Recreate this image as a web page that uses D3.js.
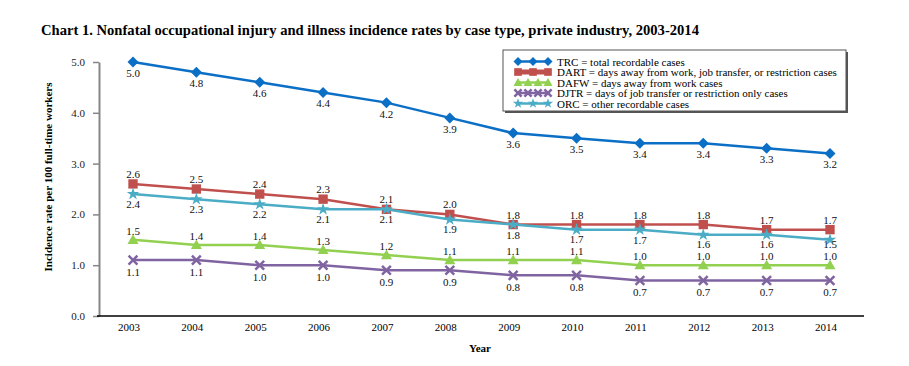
<!DOCTYPE html>
<html>
<head>
<meta charset="utf-8">
<script src="https://cdn.jsdelivr.net/npm/d3@7"></script>
<style>
  body { margin: 0; background: #fff; }
  svg text { font-family: "Liberation Serif", "Times New Roman", serif; }
</style>
</head>
<body>
<svg width="909" height="366" font-family="Liberation Serif, serif"></svg>
<script>
const years = ["2003", "2004", "2005", "2006", "2007", "2008", "2009", "2010", "2011", "2012", "2013", "2014"];
const trc = [5.0, 4.8, 4.6, 4.4, 4.2, 3.9, 3.6, 3.5, 3.4, 3.4, 3.3, 3.2];
const dart = [2.6, 2.5, 2.4, 2.3, 2.1, 2.0, 1.8, 1.8, 1.8, 1.8, 1.7, 1.7];
const dafw = [1.5, 1.4, 1.4, 1.3, 1.2, 1.1, 1.1, 1.1, 1.0, 1.0, 1.0, 1.0];
const djtr = [1.1, 1.1, 1.0, 1.0, 0.9, 0.9, 0.8, 0.8, 0.7, 0.7, 0.7, 0.7];
const orc = [2.4, 2.3, 2.2, 2.1, 2.1, 1.9, 1.8, 1.7, 1.7, 1.6, 1.6, 1.5];
const yTicks = [0, 1, 2, 3, 4, 5];

const series = [
  { name: "TRC = total recordable cases", values: trc, color: "#0b6fc6", shape: "diamond", labelDy: 15 },
  { name: "DART = days away from work, job transfer, or restriction cases", values: dart, color: "#c0504d", shape: "square", labelDy: -6 },
  { name: "DAFW = days away from work cases", values: dafw, color: "#92d050", shape: "triangle", labelDy: -5 },
  { name: "DJTR = days of job transfer or restriction only cases", values: djtr, color: "#8064a2", shape: "x", labelDy: 16 },
  { name: "ORC = other recordable cases", values: orc, color: "#4bacc6", shape: "star", labelDy: 14, below: dafw },
];

const svg = d3.select("svg");

const x = d3.scalePoint().domain(years).range([133, 830]);
const y = d3.scaleLinear().domain([0, 5]).range([316, 62]);

// title
svg.append("text")
  .attr("x", 41)
  .attr("y", 35)
  .attr("font-size", 14.6)
  .attr("font-weight", "bold")
  .text("Chart 1. Nonfatal occupational injury and illness incidence rates by case type, private industry, 2003-2014");

// y axis
const yAxis = svg.append("g")
  .attr("transform", "translate(99,0)")
  .call(d3.axisLeft(y).tickValues(yTicks).tickFormat(d3.format(".1f")).tickSize(6).tickSizeOuter(0));
yAxis.attr("font-family", null);
yAxis.select(".domain").attr("stroke", "#868686").attr("stroke-width", 2);
yAxis.selectAll(".tick line").attr("stroke", "#868686").attr("stroke-width", 1.5);
yAxis.selectAll(".tick text")
  .attr("font-size", 11)
  .attr("fill", "#222")
  .attr("x", -14);

// x axis line
svg.append("line")
  .attr("x1", 97).attr("x2", 864)
  .attr("y1", y(0)).attr("y2", y(0))
  .attr("stroke", "#000").attr("stroke-width", 1.5);

svg.append("g").selectAll("text")
  .data(years)
  .join("text")
  .attr("x", d => x(d) - 4)
  .attr("y", 331)
  .attr("text-anchor", "middle")
  .attr("font-size", 11)
  .text(d => d);

// axis titles
svg.append("text")
  .attr("transform", "translate(52,177) rotate(-90)")
  .attr("text-anchor", "middle")
  .attr("font-size", 11)
  .attr("font-weight", "bold")
  .text("Incidence rate per 100 full-time workers");

svg.append("text")
  .attr("x", 480)
  .attr("y", 352)
  .attr("text-anchor", "middle")
  .attr("font-size", 11)
  .attr("font-weight", "bold")
  .text("Year");

// markers
function drawMarker(g, shape, color, cx, cy, s) {
  if (shape === "diamond") {
    g.append("path")
      .attr("d", `M${cx},${cy - s}L${cx + s},${cy}L${cx},${cy + s}L${cx - s},${cy}Z`)
      .attr("fill", color);
  } else if (shape === "square") {
    g.append("rect")
      .attr("x", cx - s * 0.85).attr("y", cy - s * 0.85)
      .attr("width", s * 1.7).attr("height", s * 1.7)
      .attr("fill", color);
  } else if (shape === "triangle") {
    g.append("path")
      .attr("d", `M${cx},${cy - s}L${cx + s},${cy + s * 0.75}L${cx - s},${cy + s * 0.75}Z`)
      .attr("fill", color);
  } else if (shape === "x") {
    const r = s * 0.8;
    g.append("path")
      .attr("d", `M${cx - r},${cy - r}L${cx + r},${cy + r}M${cx - r},${cy + r}L${cx + r},${cy - r}`)
      .attr("stroke", color).attr("stroke-width", 2.5).attr("fill", "none");
  } else if (shape === "star") {
    g.append("path")
      .attr("d", d3.symbol(d3.symbolStar, s * s * 1.6)())
      .attr("transform", `translate(${cx},${cy})`)
      .attr("fill", color);
  }
}

const line = d3.line()
  .x((d, i) => x(years[i]))
  .y(d => y(d));

series.forEach(s => {
  const g = svg.append("g");
  g.append("path")
    .datum(s.values)
    .attr("d", line)
    .attr("fill", "none")
    .attr("stroke", s.color)
    .attr("stroke-width", 2.5);
  s.values.forEach((v, i) => drawMarker(g, s.shape, s.color, x(years[i]), y(v), 5.5));
});

// data labels on top; a label below a line is pulled up if it would hit the label of the series under it
series.forEach(s => {
  svg.append("g").selectAll("text")
    .data(s.values)
    .join("text")
    .attr("x", (d, i) => x(years[i]))
    .attr("y", (d, i) => {
      let ly = y(d) + s.labelDy;
      if (s.below) ly = Math.min(ly, y(s.below[i]) - 5 - 12);
      return ly;
    })
    .attr("text-anchor", "middle")
    .attr("font-size", 11)
    .attr("fill", "#111")
    .text(d => d3.format(".1f")(d));
});

// legend
const legend = svg.append("g");
legend.append("rect")
  .attr("x", 505).attr("y", 52).attr("width", 343).attr("height", 61)
  .attr("fill", "#555");
legend.append("rect")
  .attr("x", 503).attr("y", 50).attr("width", 343).attr("height", 61)
  .attr("fill", "#fff").attr("stroke", "#555").attr("stroke-width", 1);

const legendCounts = [3, 3, 4, 4, 3];
series.forEach((s, i) => {
  const ly = 61.5 + i * 10.5;
  legend.append("line")
    .attr("x1", 516).attr("x2", 550)
    .attr("y1", ly).attr("y2", ly)
    .attr("stroke", s.color).attr("stroke-width", s.shape === "square" ? 5 : 2.5);
  const n = legendCounts[i];
  for (let k = 0; k < n; k++) {
    const cx = 518 + k * (30 / (n - 1));
    drawMarker(legend, s.shape, s.color, cx, ly, 4.5);
  }
  legend.append("text")
    .attr("x", 557)
    .attr("y", ly + 4)
    .attr("font-size", 11)
    .text(s.name);
});
</script>
</body>
</html>
